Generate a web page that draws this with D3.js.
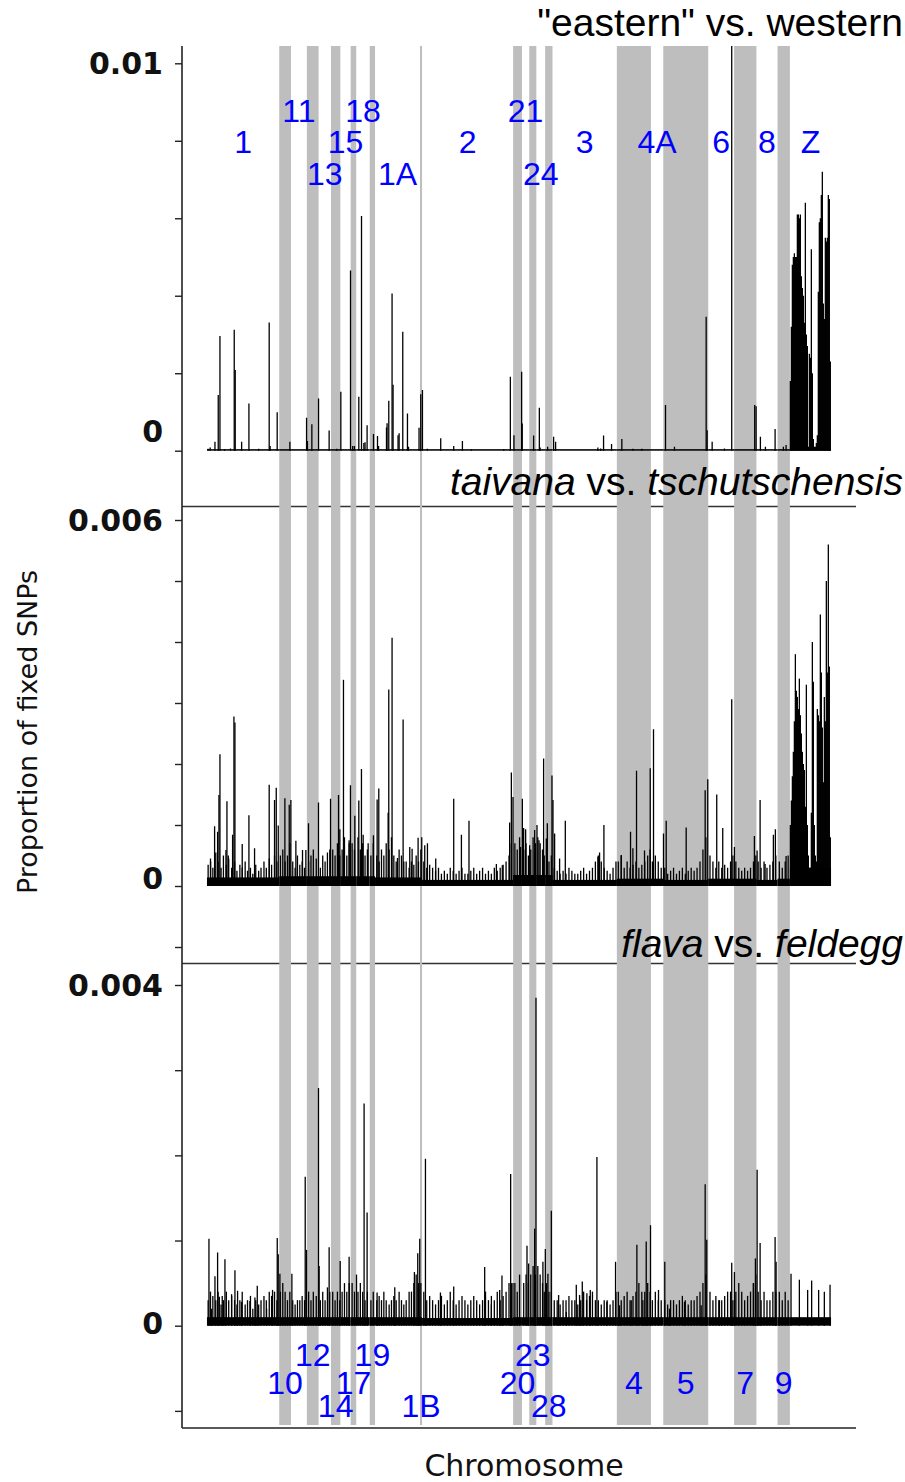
<!DOCTYPE html>
<html>
<head>
<meta charset="utf-8">
<script src="https://cdn.jsdelivr.net/npm/d3@7"></script>
<style>
  body { margin: 0; background: #fff; }
  svg { display: block; }
</style>
</head>
<body>
<svg id="chart" width="905" height="1482"></svg>
<script>
// chromosomes in plotting order, lengths in Mb
var chromosomes = ["1","10","11","12","13","14","15","17","18","19","1A","1B","2","20","21","23","24","28","3","4","4A","5","6","7","8","9","Z"];
var chromLengths = [123, 20, 27, 20, 21, 16, 17.5, 9.5, 23, 9, 76.5, 3.5, 155, 15, 12.5, 12, 15, 12.5, 109.5, 58, 21, 76.5, 44, 38, 36, 21, 70];
// label row: positive = above (top panel), negative = below (bottom panel)
var labelRows = [2, -2, 1, -1, 3, -3, 2, -2, 1, -1, 3, -3, 2, -2, 1, -1, 3, -3, 2, -2, 2, -2, 2, -2, 2, -2, 2];

// y ticks per panel
var p1Ticks = [0, 0.002, 0.004, 0.006, 0.008, 0.01];
var p2Ticks = [-0.001, 0, 0.001, 0.002, 0.003, 0.004, 0.005, 0.006];
var p3Ticks = [-0.001, 0, 0.001, 0.002, 0.003, 0.004];
var p1TickLabels = [[0, "0"], [0.01, "0.01"]];
var p2TickLabels = [[0, "0"], [0.006, "0.006"]];
var p3TickLabels = [[0, "0"], [0.004, "0.004"]];

// background level of fixed SNPs per chromosome
var p1Floor = [0.00004,0.00004,0.00004,0.00004,0.00004,0.00004,0.00004,0.00004,0.00004,0.00004,0.00004,0.00004,0.00004,0.00004,0.00004,0.00004,0.00004,0.00004,0.00004,0.00004,0.00004,0.00004,0.00004,0.00004,0.00004,0.00004,0.00004];
var p2Floor = [0.00014,0.00016,0.00016,0.00016,0.00016,0.00016,0.00016,0.00016,0.00016,0.00016,0.00014,0.00014,0.0001,0.00018,0.00018,0.00018,0.00018,0.00018,0.0001,0.00012,0.00012,0.0001,0.00012,0.00012,0.0001,0.00012,0.0003];
var p3Floor = [0.0001,0.0001,0.0001,0.0001,0.0001,0.0001,0.0001,0.0001,0.0001,0.0001,0.0001,0.0001,0.00009,0.0001,0.0001,0.0001,0.0001,0.0001,0.0001,0.0001,0.0001,0.0001,0.0001,0.0001,0.0001,0.0001,0.0001];

// peaks: [genome position (Mb), proportion]
var p1Spikes = [[2,0.00005],[5.5,0.00008],[13.6,0.00023],[19.2,0.00144],[22.1,0.00296],[30,0.00004],[40,0.00006],[46.4,0.00312],[48.1,0.00208],[59,0.00023],[71.4,0.00122],[88,0.00005],[105.9,0.00331],[107.5,0.00012],[119.5,0.00099],[141.1,0.00023],[169.5,0.00085],[171,0.00025],[178.5,0.00068],[189.9,0.00135],[207.9,0.00052],[221,0.00005],[227.8,0.00152],[244.3,0.00465],[248,0.00012],[251,0.00012],[258.4,0.00139],[263,0.00606],[267,0.0002],[269,0.00022],[272.5,0.00066],[283.4,0.00043],[290.2,0.00038],[292,0.00012],[305.5,0.0006],[306.5,0.00071],[309.4,0.00129],[315,0.00406],[316.7,0.0017],[325.2,0.0004],[327,0.00045],[333.2,0.00307],[341.2,0.00096],[343,0.0001],[360.9,0.00059],[363.8,0.00146],[366.7,0.00157],[375,0.00005],[397.8,0.00032],[419.9,0.00012],[434.7,0.00025],[450,0.00003],
  [505,0.00004],[516.3,0.00191],[522.4,0.0004],[535.5,0.00204],[536.5,0.0007],[555.9,0.00039],[565.6,0.00111],[567,0.00008],[579.7,0.0001],[589.9,0.00036],[593.3,0.00023],[665.2,0.00008],[670,0.00006],[674.9,0.00039],[688.5,0.00017],[706,0.0003],[725,0.00005],[740,0.00005],[780.3,0.00118],[795.6,0.0001],[849.5,0.00346],[851.2,0.00053],[859.7,0.00023],[880.6,0.00006],[893,0.012],[932.1,0.00118],[934.5,0.00115],[941.8,0.00036],[950.3,0.0001],[966.8,0.00056],[980.9,0.0001],[985.5,0.00015]];

var p2Spikes = [[6.2,0.0004],[13,0.00098],[18.1,0.00089],[20.4,0.00149],[22.1,0.00216],[32.3,0.00059],[34,0.00139],[36.3,0.0005],[43.6,0.00084],[45.9,0.00278],[47.6,0.00268],[60,0.00069],[71.4,0.00116],[81,0.00062],[105.9,0.00166],[115,0.00141],[117.9,0.00161],[121.3,0.00099],[132.6,0.00144],[140,0.00133],[142.8,0.00141],[151.3,0.00074],[162.6,0.00059],[168.3,0.00059],[172.8,0.00103],[189.8,0.00137],[210.3,0.00143],[223.9,0.00149],[226.1,0.00093],[232.3,0.00338],[241.9,0.00075],[244.2,0.00165],[251.6,0.00115],[258.4,0.0014],[262.9,0.00192],[265.8,0.00084],[274.3,0.0007],[283.3,0.00083],[289.6,0.00142],[292.4,0.0016],[308.3,0.0012],[309.4,0.00322],[315,0.00407],[324.2,0.00046],[333.8,0.00273],[345.1,0.00064],[349.1,0.00061],[359.3,0.00079],[365.5,0.0008],[370.6,0.00067],[375.2,0.0007],[389.3,0.00045],[419.9,0.00143],[433,0.00084],[445.9,0.00107],[492.5,0.00036],
  [502.6,0.00034],[515.1,0.00104],[518,0.00186],[520.8,0.00146],[533.8,0.00064],[536.7,0.00143],[538.9,0.00095],[542.3,0.00093],[549.1,0.00067],[557.6,0.00092],[561.6,0.001],[565,0.00075],[572.9,0.00209],[577.5,0.00078],[579.2,0.00103],[587.1,0.00181],[588.8,0.00141],[591.6,0.00086],[600.1,0.00045],[609.8,0.00107],[665.3,0.00048],[668.1,0.00055],[675.5,0.001],[705,0.00051],[720.8,0.00089],[724.8,0.00062],[731,0.00189],[744.6,0.00058],[754.3,0.00193],[759.9,0.00257],[776.9,0.00086],[781.5,0.00107],[815.5,0.00096],[847.8,0.00157],[852.2,0.00175],[867.5,0.0015],[877.7,0.00095],[893,0.00306],[897.6,0.00064],[931.6,0.00082],[936.2,0.00058],[941.3,0.00141],[949.8,0.00036],[963.9,0.00084],[967.3,0.00093],[985.5,0.00049]];

var p3Spikes = [[3.4,0.00102],[8,0.0002],[13.6,0.00058],[18.1,0.00086],[21,0.00034],[26,0.00035],[30.6,0.00078],[41.9,0.00037],[47.6,0.00065],[52.1,0.00041],[58.9,0.00028],[73.1,0.00029],[81.6,0.00033],[85.6,0.00047],[101.5,0.0002],[111.6,0.00042],[119.6,0.00103],[121.3,0.00084],[124.1,0.00061],[144.5,0.00061],[167.2,0.00175],[169.4,0.00089],[189.8,0.00279],[190.9,0.0007],[207.9,0.00092],[226.7,0.00076],[241.9,0.00081],[254.5,0.0006],[267.4,0.00261],[272.5,0.00133],[289.5,0.00039],[319.6,0.00045],[353,0.00063],[358.7,0.00085],[362.1,0.00102],[371.8,0.00196],[397.3,0.00039],[419.9,0.00046],
  [472.6,0.00069],[484,0.00025],[498.1,0.00042],[502,0.00059],[516.8,0.00178],[520.7,0.0005],[544.6,0.00094],[547.4,0.00073],[557.6,0.00114],[559.9,0.00385],[571.7,0.00075],[575.8,0.0009],[580.2,0.00061],[586,0.00135],[598.4,0.00036],[611.5,0.00016],[628.5,0.00048],[634.1,0.00036],[638.7,0.00052],[646.5,0.00038],[652.3,0.00042],[663.6,0.00198],[680.5,0.00028],[695.3,0.00075],[702.1,0.00024],[722,0.0003],[731.6,0.00095],[741.8,0.0003],[747.5,0.00099],[754.8,0.00118],[768.4,0.00042],[779.1,0.00075],[787.1,0.0002],[812.6,0.00028],[841,0.00024],[847.8,0.00166],[850.5,0.00101],[872.1,0.0003],[893,0.00074],[897.6,0.00063],[929.9,0.0005],[933.3,0.00079],[936.2,0.00183],[941.3,0.00097],[966.8,0.00104],[968.5,0.00075],[993.9,0.00061],[1008.1,0.00054],[1022.2,0.00042],[1029,0.00053],[1040.9,0.00042],[1050.6,0.0004],[1060.3,0.00048]];

// low background windows (panels 2 and 3), shared positions in Mb
var fuzzPositions = [2,6,10,15,19,24,28,33,37,42,47,51,56,60,65,69,74,78,83,88,92,97,101,106,110,115,119,
  125,129,133,137,141, 146,150,154,158,162,166, 173,177,181,186, 193,197,201,205,209, 214,218,222,226, 230,234,238,242, 247,251, 257,261,265,269,273, 279,283,
  289,293,297,301,305,310,314,318,322,327,331,335,339,344,348,352,356,360, 364,
  369,374,379,384,389,394,399,404,409,414,419,424,429,434,439,444,449,454,459,464,469,474,479,484,489,494,499,504,509,514,518,
  524,528,532, 539,543,547, 551,555,559, 563,567,571,574, 578,582,586,
  591,596,601,606,611,616,621,626,631,636,641,646,651,656,661,666,671,676,681,686,691,696,
  700,705,710,715,720,725,730,735,740,745,750,754, 758,763,768,773,
  779,784,789,794,799,804,809,814,819,824,829,834,839,844,849,
  856,861,866,871,876,881,886,891,895, 900,905,910,915,920,925,930,934, 938,943,948,953,958,963,968, 974,979,984,989];
var p2Fuzz = [0.00035,0.00045,0.0003,0.00055,0.0004,0.0003,0.0005,0.00035,0.00045,0.0003,0.0004,0.00025,0.00035,0.0003,0.0004,0.00025,0.0003,0.0002,0.00035,0.00025,0.0003,0.0004,0.0003,0.00045,0.00035,0.0005,0.0004,
  0.0005,0.0006,0.0004,0.0005,0.0007, 0.0004,0.0003,0.0005,0.00035,0.0004,0.0003, 0.0004,0.0005,0.0006,0.00045, 0.0003,0.0005,0.0004,0.00055,0.0006, 0.0006,0.0005,0.0007,0.0005, 0.0006,0.0008,0.0005,0.0007, 0.0007,0.0006, 0.0008,0.0006,0.0007,0.0005,0.0006, 0.0005,0.0007,
  0.0005,0.0004,0.0006,0.0005,0.0007,0.0006,0.0008,0.0005,0.0004,0.0006,0.0005,0.0004,0.0004,0.0003,0.0004,0.00035,0.0005,0.0004, 0.0006,
  0.0004,0.0003,0.00035,0.0003,0.00025,0.0003,0.0002,0.00025,0.0002,0.0003,0.00025,0.0002,0.00025,0.0003,0.0002,0.0002,0.00025,0.0003,0.0002,0.00025,0.0003,0.0002,0.00025,0.0002,0.0003,0.00025,0.0003,0.00035,0.0004,0.0005,0.0007,
  0.0007,0.0006,0.0008, 0.0006,0.0007,0.0005, 0.0006,0.0008,0.0007, 0.0008,0.0007,0.0006,0.0005, 0.0006,0.0004,0.0005,
  0.0003,0.00025,0.0002,0.00025,0.0002,0.0003,0.00025,0.0002,0.0002,0.00025,0.0003,0.0002,0.00025,0.0003,0.0004,0.0005,0.0004,0.0003,0.00025,0.0002,0.0003,0.0004,
  0.0004,0.0005,0.0003,0.0004,0.0003,0.00035,0.0004,0.0003,0.00035,0.0004,0.0005,0.0006, 0.0004,0.0005,0.0004,0.0003,
  0.0003,0.0002,0.00025,0.0003,0.0002,0.00025,0.0003,0.0002,0.00025,0.0003,0.00025,0.0003,0.0004,0.0006,0.0008,
  0.0005,0.0004,0.0003,0.0004,0.0003,0.00035,0.0003,0.0004,0.0005, 0.0004,0.0003,0.00025,0.0003,0.00025,0.0003,0.0004,0.0005, 0.0004,0.0003,0.0004,0.0003,0.00035,0.0004,0.0005, 0.0004,0.0003,0.0004,0.0005];
var p3Fuzz = [0.0003,0.0004,0.00035,0.0003,0.0004,0.00025,0.0003,0.0004,0.0003,0.00035,0.0003,0.00025,0.0003,0.0004,0.00025,0.0003,0.00035,0.0002,0.0003,0.00025,0.0003,0.00035,0.0003,0.0004,0.00035,0.0004,0.0003,
  0.0004,0.0005,0.0004,0.0003,0.0004, 0.0003,0.00025,0.0003,0.0003,0.00035,0.0003, 0.0004,0.0003,0.0004,0.00035, 0.0003,0.0004,0.0003,0.00045,0.0004, 0.0004,0.0003,0.0004,0.0003, 0.0004,0.0005,0.0004,0.0005, 0.0005,0.0004, 0.0004,0.0005,0.0004,0.0003,0.0004, 0.0003,0.0004,
  0.0003,0.00035,0.0003,0.0004,0.0003,0.00025,0.0003,0.00035,0.0003,0.0004,0.0003,0.00025,0.0003,0.0004,0.0004,0.0005,0.0006,0.0005, 0.0005,
  0.0004,0.0003,0.00035,0.0003,0.00025,0.0003,0.00035,0.00025,0.0003,0.0004,0.0003,0.00025,0.0003,0.00035,0.0003,0.00025,0.0003,0.00035,0.0003,0.00025,0.0003,0.0004,0.0003,0.00035,0.0003,0.0004,0.0003,0.00035,0.0004,0.0005,0.0005,
  0.0005,0.0004,0.0006, 0.0005,0.0006,0.0005, 0.0006,0.0007,0.0006, 0.0007,0.0006,0.0005,0.0004, 0.0005,0.0004,0.0004,
  0.0003,0.0003,0.00025,0.0003,0.0003,0.00035,0.0003,0.0003,0.00025,0.0003,0.0004,0.0003,0.00035,0.0004,0.0003,0.0003,0.00025,0.0003,0.0003,0.00025,0.0003,0.0004,
  0.0004,0.0003,0.00035,0.0004,0.0003,0.00035,0.0004,0.0005,0.0004,0.0004,0.0005,0.0004, 0.0003,0.0004,0.0003,0.0003,
  0.0003,0.00025,0.0003,0.0003,0.00025,0.0003,0.00035,0.0003,0.00025,0.0003,0.0003,0.00035,0.0004,0.0005,0.0006,
  0.0004,0.0003,0.00035,0.0003,0.0003,0.00035,0.0004,0.0004,0.0003, 0.0004,0.0005,0.0004,0.0003,0.00035,0.0004,0.0005,0.0006, 0.0004,0.0003,0.0004,0.0003,0.0003,0.0004,0.0004, 0.0004,0.0003,0.0004,0.0003];

// chromosome Z windows (dense block), shared positions
var zPositions = [992.8,994.5,996.2,997.9,999.6,1001.3,1003,1004.7,1006.4,1008.1,1009.8,1011.5,1013.2,1014.9,1016.6,1018.3,1020,1021.7,1023.4,1025.1,1026.8,1028.5,1030.2,1031.9,1033.6,1035.3,1037,1038.7,1040.4,1042.1,1043.8,1045.5,1047.2,1048.9,1050.6,1052.3,1054,1055.7,1057.4,1059.1,1060.8];
var p1ZValues = [0.0018,0.0032,0.0048,0.005,0.0051,0.005,0.005,0.0061,0.0061,0.006,0.0061,0.0045,0.0042,0.004,0.0033,0.0064,0.003,0.0027,0.0001,0.0025,0.0024,0.0052,0.002,0.0003,0.0001,0.0001,0.0002,0.0004,0.0041,0.0059,0.006,0.0066,0.0072,0.0038,0.0034,0.0055,0.0054,0.0055,0.0066,0.0065,0.0023];
var p2ZValues = [0.001,0.0014,0.0018,0.0022,0.0027,0.0038,0.0032,0.0031,0.0029,0.0034,0.0028,0.0025,0.0022,0.002,0.0019,0.0013,0.0033,0.001,0.0005,0.0002,0.0003,0.0012,0.004,0.00335,0.001,0.0005,0.0004,0.0029,0.0028,0.0027,0.00445,0.0035,0.0026,0.0017,0.0031,0.0027,0.005,0.0035,0.0056,0.0036,0.0008];

var title1 = [['"eastern" vs. western', false]];
var title2 = [["taivana", true], [" vs. ", false], ["tschutschensis", true]];
var title3 = [["flava", true], [" vs. ", false], ["feldegg", true]];

var svg = d3.select("#chart");

var total = d3.sum(chromLengths);
var ends = Array.from(d3.cumsum(chromLengths));
var starts = ends.map(function(e, i) { return e - chromLengths[i]; });

// R style 4% padding on x
var x = d3.scaleLinear()
  .domain([-0.04 * total, 1.04 * total])
  .range([182, 856]);

var plotTop = 46, plotBottom = 1428, bandBottom = 1425;

var panels = [
  {top: 46, bottom: 506.5, y: d3.scaleLinear().domain([0, 0.01]).range([450.7, 63.3]),
   ticks: p1Ticks, labels: p1TickLabels, zeroShift: -20, floor: p1Floor, spikes: p1Spikes, z: p1ZValues, fuzz: null,
   title: title1, titleY: 36},
  {top: 506.5, bottom: 963.5, y: d3.scaleLinear().domain([0, 0.006]).range([886, 520]),
   ticks: p2Ticks, labels: p2TickLabels, zeroShift: -8, floor: p2Floor, spikes: p2Spikes, z: p2ZValues, fuzz: p2Fuzz,
   title: title2, titleY: 495},
  {top: 963.5, bottom: 1428, y: d3.scaleLinear().domain([0, 0.004]).range([1325.7, 985]),
   ticks: p3Ticks, labels: p3TickLabels, zeroShift: -3, floor: p3Floor, spikes: p3Spikes, z: null, fuzz: p3Fuzz,
   title: title3, titleY: 957}
];

// panel separators (drawn under the bands)
svg.selectAll("line.sep")
  .data([506.5, 963.5])
  .enter().append("line")
  .attr("class", "sep")
  .attr("x1", 182).attr("x2", 856)
  .attr("y1", d => d).attr("y2", d => d)
  .attr("stroke", "#333").attr("stroke-width", 1.6);

// alternating chromosome bands
svg.append("g").selectAll("rect")
  .data(chromosomes.map((c, i) => i).filter(i => i % 2 == 1))
  .enter().append("rect")
  .attr("x", i => x(starts[i]))
  .attr("width", i => x(ends[i]) - x(starts[i]))
  .attr("y", plotTop)
  .attr("height", bandBottom - plotTop)
  .attr("fill", "#bebebe");

panels.forEach(function(p, k) {
  var clipId = "clip" + k;
  svg.append("clipPath").attr("id", clipId)
    .append("rect")
    .attr("x", 182).attr("y", p.top)
    .attr("width", 674).attr("height", p.bottom - p.top);

  var g = svg.append("g").attr("clip-path", "url(#" + clipId + ")");

  // background floor per chromosome
  g.selectAll("rect.floor")
    .data(p.floor)
    .enter().append("rect")
    .attr("class", "floor")
    .attr("x", (d, i) => x(starts[i]))
    .attr("width", (d, i) => x(ends[i]) - x(starts[i]))
    .attr("y", d => p.y(d))
    .attr("height", d => p.y(0) - p.y(d))
    .attr("fill", "#000");

  var pts = p.spikes.slice();
  if (p.z) pts = pts.concat(zPositions.map((pos, i) => [pos, p.z[i]]));
  if (p.fuzz) pts = pts.concat(p.fuzz.map((v, i) => [fuzzPositions[i], v]));

  g.selectAll("line.spike")
    .data(pts)
    .enter().append("line")
    .attr("class", "spike")
    .attr("x1", d => x(d[0])).attr("x2", d => x(d[0]))
    .attr("y1", p.y(0)).attr("y2", d => p.y(d[1]))
    .attr("stroke", "#000").attr("stroke-width", 1.3);

  // y axis ticks
  var axis = d3.axisLeft(p.y)
    .tickValues(p.ticks)
    .tickSize(7)
    .tickSizeOuter(0)
    .tickFormat("");
  var ag = svg.append("g").attr("transform", "translate(182,0)").call(axis);
  ag.select(".domain").remove();
  ag.selectAll(".tick line").attr("stroke", "#222").attr("stroke-width", 1.4);

  svg.selectAll("text.ylab" + k)
    .data(p.labels)
    .enter().append("text")
    .attr("class", "ylab" + k)
    .attr("x", 163)
    .attr("y", d => p.y(d[0]) + 11 + (d[0] === 0 ? p.zeroShift : 0))
    .attr("text-anchor", "end")
    .attr("font-family", "DejaVu Sans")
    .attr("font-weight", "bold")
    .attr("font-size", 30)
    .attr("fill", "#111")
    .text(d => d[1]);

  // panel title
  var t = svg.append("text")
    .attr("x", 903).attr("y", p.titleY)
    .attr("text-anchor", "end")
    .attr("font-family", "Liberation Sans, Arial")
    .attr("font-size", 39)
    .attr("fill", "#000");
  p.title.forEach(function(part) {
    t.append("tspan").attr("font-style", part[1] ? "italic" : "normal").text(part[0]);
  });
});

// axis lines
svg.append("line").attr("x1", 182).attr("x2", 182).attr("y1", plotTop).attr("y2", plotBottom)
  .attr("stroke", "#222").attr("stroke-width", 1.6);
svg.append("line").attr("x1", 182).attr("x2", 856).attr("y1", plotBottom).attr("y2", plotBottom)
  .attr("stroke", "#222").attr("stroke-width", 1.6);

// chromosome labels
var topRowY = {1: 121.5, 2: 153, 3: 185};
var bottomRowY = {1: 1366, 2: 1394, 3: 1417};
svg.selectAll("text.chrom")
  .data(chromosomes)
  .enter().append("text")
  .attr("class", "chrom")
  .attr("x", (d, i) => x(starts[i] + chromLengths[i] / 2))
  .attr("y", (d, i) => labelRows[i] > 0 ? topRowY[labelRows[i]] : bottomRowY[-labelRows[i]])
  .attr("text-anchor", "middle")
  .attr("font-family", "Liberation Sans, Arial")
  .attr("font-size", 32)
  .attr("fill", "#0000ff")
  .text(d => d);

// axis titles
svg.append("text")
  .attr("x", 524).attr("y", 1476)
  .attr("text-anchor", "middle")
  .attr("font-family", "DejaVu Sans")
  .attr("font-size", 30)
  .attr("fill", "#111")
  .text("Chromosome");

svg.append("text")
  .attr("transform", "translate(37,732) rotate(-90)")
  .attr("text-anchor", "middle")
  .attr("font-family", "DejaVu Sans")
  .attr("font-size", 27)
  .attr("fill", "#111")
  .text("Proportion of fixed SNPs");
</script>
</body>
</html>
